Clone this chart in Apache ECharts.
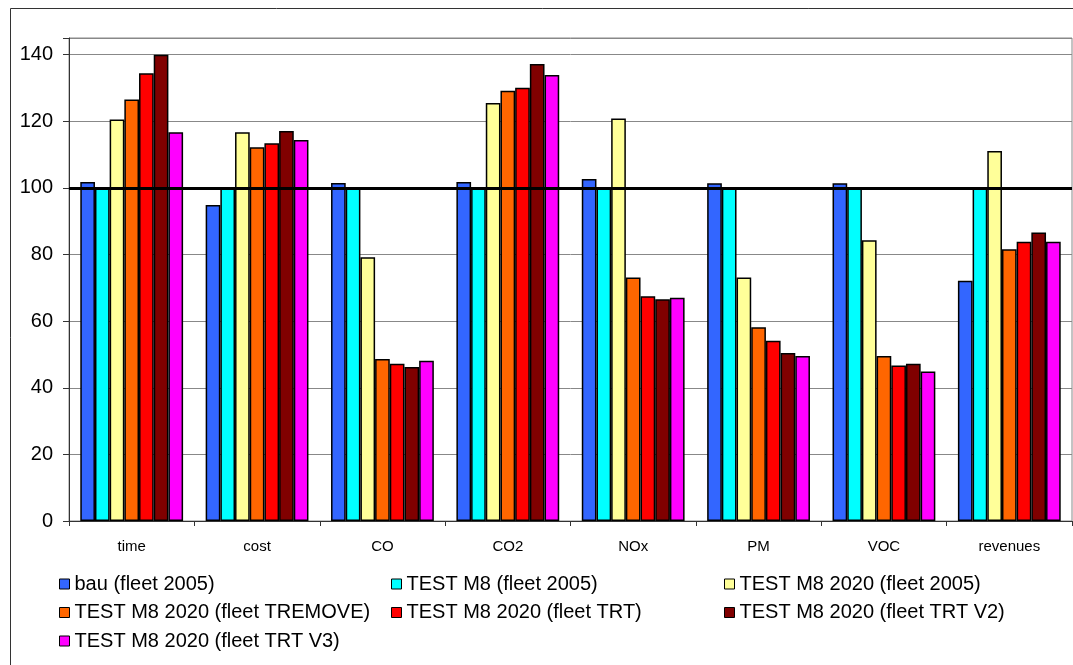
<!DOCTYPE html>
<html>
<head>
<meta charset="utf-8">
<script src="https://cdn.jsdelivr.net/npm/echarts@6/dist/echarts.min.js"></script>
<style>
  html, body { margin: 0; padding: 0; background: #fff; }
  #chart { width: 1073px; height: 665px; }
</style>
</head>
<body>
<div id="chart"></div>
<script>
// categories and series values
const categories = ['time', 'cost', 'CO', 'CO2', 'NOx', 'PM', 'VOC', 'revenues'];
const seriesNames = [
  'bau (fleet 2005)',
  'TEST M8 (fleet 2005)',
  'TEST M8 2020 (fleet 2005)',
  'TEST M8 2020 (fleet TREMOVE)',
  'TEST M8 2020 (fleet TRT)',
  'TEST M8 2020 (fleet TRT V2)',
  'TEST M8 2020 (fleet TRT V3)'
];
const bau = [101.8, 94.9, 101.5, 101.8, 102.7, 101.4, 101.4, 72.1];
const testM8 = [100, 100, 100, 100, 100, 100, 100, 100];
const m8Fleet2005 = [120.5, 116.7, 79.2, 125.5, 120.8, 73.1, 84.3, 111.1];
const m8Tremove = [126.5, 112.2, 48.6, 129.2, 73.1, 58.2, 49.5, 81.6];
const m8Trt = [134.4, 113.4, 47.2, 130.1, 67.5, 54.1, 46.7, 83.8];
const m8TrtV2 = [140, 117.1, 46.2, 137.2, 66.6, 50.4, 47.2, 86.6];
const m8TrtV3 = [116.7, 114.4, 48.1, 133.9, 67.0, 49.5, 44.9, 83.8];
const yTicks = { min: 0, max: 145, interval: 20 };
const baseline = 100;

const colors = ['#3366FF', '#00FFFF', '#FFFF99', '#FF6600', '#FF0000', '#800000', '#FF00FF'];
const values = [bau, testM8, m8Fleet2005, m8Tremove, m8Trt, m8TrtV2, m8TrtV3];

const chart = echarts.init(document.getElementById('chart'));

const series = values.map((data, i) => {
  const s = {
    name: seriesNames[i],
    type: 'bar',
    data: data,
    barGap: '0%',
    barCategoryGap: '18%',
    itemStyle: {
      color: colors[i],
      borderColor: '#000',
      borderWidth: 1.5
    },
    emphasis: { disabled: true }
  };
  if (i === 0) {
    // thick reference line at 100
    s.markLine = {
      silent: true,
      symbol: 'none',
      label: { show: false },
      lineStyle: { color: '#000', width: 3, type: 'solid' },
      data: [{ yAxis: baseline }]
    };
  }
  return s;
});

const legendBase = {
  orient: 'vertical',
  icon: 'rect',
  itemWidth: 10,
  itemHeight: 10,
  itemGap: 8.5,
  top: 569,
  textStyle: { fontFamily: 'Liberation Sans, Arial', fontSize: 20, color: '#000', lineHeight: 20 },
  itemStyle: { borderColor: '#000', borderWidth: 1 }
};

const option = {
  animation: false,
  color: colors,
  graphic: [
    {
      type: 'rect',
      left: 8,
      top: 6,
      shape: { width: 1100, height: 700 },
      style: { fill: 'none', stroke: '#333', lineWidth: 1 },
      silent: true
    }
  ],
  grid: {
    left: 69,
    top: 38,
    right: 1,
    bottom: 144,
    show: true,
    borderColor: '#888',
    borderWidth: 1
  },
  legend: [
    Object.assign({}, legendBase, { left: 54, data: [seriesNames[0], seriesNames[3], seriesNames[6]] }),
    Object.assign({}, legendBase, { left: 386, data: [seriesNames[1], seriesNames[4]] }),
    Object.assign({}, legendBase, { left: 719, data: [seriesNames[2], seriesNames[5]] })
  ],
  xAxis: {
    type: 'category',
    data: categories,
    axisLine: { lineStyle: { color: '#333', width: 1 } },
    axisTick: { show: true, length: 5, lineStyle: { color: '#333' } },
    axisLabel: {
      color: '#000',
      fontSize: 15,
      fontFamily: 'Liberation Sans, Arial',
      margin: 18
    }
  },
  yAxis: {
    type: 'value',
    min: yTicks.min,
    max: yTicks.max,
    interval: yTicks.interval,
    axisLine: { show: true, lineStyle: { color: '#333', width: 1 } },
    axisTick: { show: true, length: 6, lineStyle: { color: '#333' } },
    splitLine: { show: true, lineStyle: { color: '#888', width: 1 } },
    axisLabel: {
      color: '#000',
      fontSize: 20,
      fontFamily: 'Liberation Sans, Arial',
      margin: 16,
      formatter: v => (v === yTicks.max ? '' : v)
    }
  },
  series: series
};

chart.setOption(option);
</script>
</body>
</html>
